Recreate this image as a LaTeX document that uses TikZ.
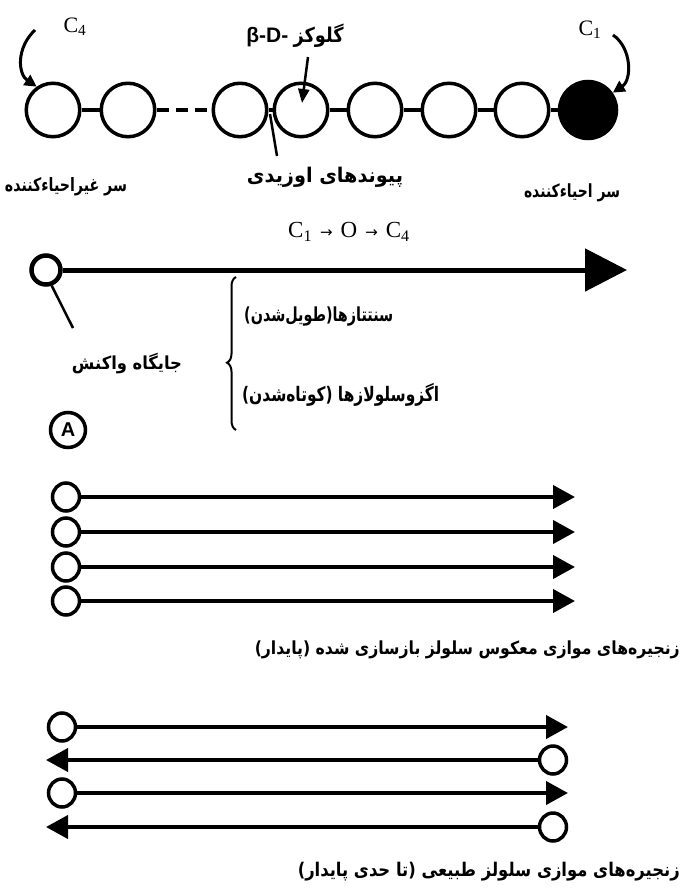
\documentclass[tikz,border=0pt]{standalone}
\usepackage{fontspec}
\setmainfont{Liberation Serif}
\newfontfamily\arabicfont[Script=Arabic]{DejaVu Sans}
\newfontfamily\lsans{Liberation Sans}
\newfontfamily\dvs{DejaVu Sans}
\TeXXeTstate=1
\usetikzlibrary{arrows.meta,decorations.pathreplacing,shapes.geometric}
\newcommand\fw[2]{\resizebox{#1}{!}{#2}}
\newcommand\fwv[3]{\scalebox{1}[#2]{\resizebox{#1}{!}{#3}}}
\newcommand\ar{\arabicfont\bfseries}
\newcommand\rarr{{\dvs\fontsize{15}{17}\selectfont →}}
\begin{document}
\begin{tikzpicture}[x=1pt,y=-1pt,
  bead/.style={circle,draw,line width=3.5pt,minimum size=53.5pt,inner sep=0pt},
  link/.style={line width=4.5pt},
  dashlink/.style={line width=4.5pt,dash pattern=on 12pt off 7pt},
  lab/.style={inner sep=0pt},
  curvarr/.style={line width=3pt,-{Triangle[length=12pt,width=12pt]}},
  ptr/.style={line width=2.5pt},
  ptrarr/.style={line width=2.5pt,-{Triangle[length=14pt,width=11pt]}},
  bigarr/.style={line width=5pt,-{Triangle[length=42pt,width=42pt]}},
  sarr/.style={line width=4pt,-{Triangle[length=22pt,width=23pt]}},
  ring/.style={ellipse,draw,line width=3.5pt,minimum width=27pt,minimum height=28pt,inner sep=0pt},
  ringbig/.style={circle,draw,line width=4.5pt,minimum size=29pt,inner sep=0pt}]
\fill[white] (0,0) rectangle (683,893);
\useasboundingbox (0,0) rectangle (683,893);

% ---------- chain ----------
\node[bead] (c1) at (53,110) {};
\node[bead] (c2) at (128,110) {};
\node[bead] (c3) at (240,110) {};
\node[bead] (c4) at (301,110) {};
\node[bead] (c5) at (375,110) {};
\node[bead] (c6) at (449,110) {};
\node[bead] (c7) at (522,110) {};
\node[bead,fill=black,minimum size=57pt] (c8) at (588,110) {};
\draw[link] (c1) -- (c2);
\draw[dashlink] (c2) -- (c3);
\draw[link] (c3) -- (c4);
\draw[link] (c4) -- (c5);
\draw[link] (c5) -- (c6);
\draw[link] (c6) -- (c7);
\draw[link] (c7) -- (c8);

\node[lab] (lc4) at (75,27) {\fontsize{22}{24}\selectfont C\textsubscript{4}};
\node[lab] (lc1) at (590,30) {\fontsize{22}{24}\selectfont C\textsubscript{1}};
\coordinate (a4s) at (35,30);
\coordinate (a1s) at (613,35);
\draw[curvarr] (a4s) .. controls (16,48) and (18,74) .. (c1.125);
\draw[curvarr] (a1s) .. controls (632,48) and (632,80) .. (c8.35);

\node[lab] (glu) at (295,36) {\fontsize{21}{24}\selectfont{\lsans\bfseries β-D-}\ \fwv{50pt}{1.15}{\ar\beginR گلوکز\endR}};
\coordinate (gs) at (308,57);
\coordinate (gt) at (302,103);
\draw[ptrarr] (gs) -- (gt);

\coordinate (bs) at (270,114);
\coordinate (be) at (277,156);
\draw[ptr] (bs) -- (be);
\node[lab] (bond) at (325,177) {\fwv{156pt}{1.05}{\ar\beginR پیوندهای اوزیدی\endR}};
\node[lab] (nred) at (66,187) {\fwv{122pt}{1.3}{\ar\beginR سر غیراحیاءکننده\endR}};
\node[lab] (red) at (572,193) {\fwv{96pt}{1.3}{\ar\beginR سر احیاءکننده\endR}};

% ---------- reaction arrow ----------
\node[lab] (dir) at (349,232) {\fontsize{23}{25}\selectfont C\textsubscript{1}\hspace{8pt}\rarr\hspace{8pt}O\hspace{8pt}\rarr\hspace{8pt}C\textsubscript{4}};
\node[ringbig] (rc) at (46,270) {};
\coordinate (bt) at (627,270);
\draw[bigarr] (rc) -- (bt);
\coordinate (rp) at (73,328);
\draw[line width=2.5pt] (rc.-70) -- (rp);
\node[lab] (site) at (127,364) {\fwv{110pt}{1.1}{\ar\beginR جایگاه واکنش\endR}};
\coordinate (br1) at (236,430);
\coordinate (br2) at (236,277);
\draw[line width=2pt,decorate,decoration={brace,amplitude=9pt,aspect=0.44}] (br1) -- (br2);
\node[lab,anchor=west] (syn) at (244,317) {\fwv{149pt}{1.35}{\ar\beginR سنتتازها(طویل‌شدن)\endR}};
\node[lab,anchor=west] (exo) at (242,395) {\fwv{197pt}{1.3}{\ar\beginR اگزوسلولازها (کوتاه‌شدن)\endR}};
\node[circle,draw,line width=3.5pt,minimum size=35pt,inner sep=0pt] (A) at (68,430) {\fontsize{20}{22}\selectfont\lsans\bfseries A};

% ---------- set 1 ----------
\node[ring] (p1) at (66,497) {};
\node[ring] (p2) at (66,532) {};
\node[ring] (p3) at (66,567) {};
\node[ring] (p4) at (66,601) {};
\coordinate (pt1) at (575,497);
\coordinate (pt2) at (575,532);
\coordinate (pt3) at (575,567);
\coordinate (pt4) at (575,601);
\draw[sarr] (p1) -- (pt1);
\draw[sarr] (p2) -- (pt2);
\draw[sarr] (p3) -- (pt3);
\draw[sarr] (p4) -- (pt4);
\node[lab,anchor=east] (cap1) at (680,650) {\fwv{425pt}{1.15}{\ar\beginR زنجیره‌های موازی معکوس سلولز بازسازی شده (پایدار)\endR}};

% ---------- set 2 ----------
\node[ring] (q1) at (62,727) {};
\node[ring] (q2) at (553,760) {};
\node[ring] (q3) at (62,793) {};
\node[ring] (q4) at (553,827) {};
\coordinate (qt1) at (568,727);
\coordinate (qt2) at (46,760);
\coordinate (qt3) at (568,793);
\coordinate (qt4) at (46,827);
\draw[sarr] (q1) -- (qt1);
\draw[sarr] (q2) -- (qt2);
\draw[sarr] (q3) -- (qt3);
\draw[sarr] (q4) -- (qt4);
\node[lab,anchor=east] (cap2) at (680,872) {\fwv{382pt}{1.15}{\ar\beginR زنجیره‌های موازی سلولز طبیعی (تا حدی پایدار)\endR}};
\end{tikzpicture}
\end{document}
